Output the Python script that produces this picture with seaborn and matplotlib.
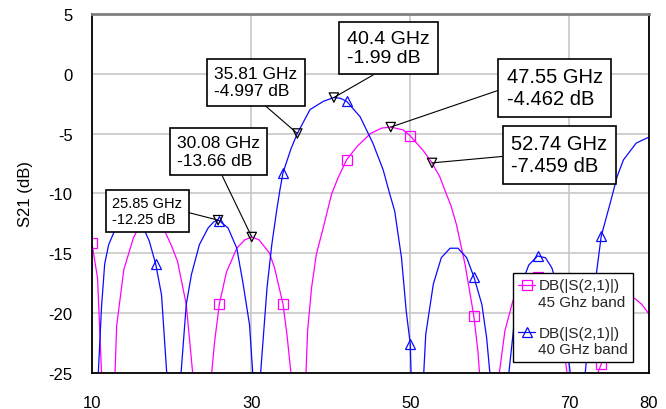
import numpy as np
import pandas as pd
import matplotlib
matplotlib.use("Agg")
import matplotlib.pyplot as plt
import seaborn as sns
from matplotlib.lines import Line2D
from matplotlib.legend_handler import HandlerLine2D

# ---------------- data ----------------
freq_45 = [10.0, 10.7, 11.2, 12.0, 12.9, 13.1, 14.0, 15.2, 16.2, 17.0, 18.0, 19.1, 20.0,
           20.75, 21.85, 22.65, 23.8, 25.05, 25.4, 26.0, 26.9, 28.2, 29.2, 30.08, 31.0,
           32.3, 32.95, 34.0, 34.5, 35.0, 36.0, 36.9, 37.1, 37.6, 38.2, 39.1, 40.1, 40.9,
           42.0, 43.3, 45.0, 46.4, 47.55, 49.1, 50.0, 51.6, 52.74, 53.7, 54.5, 55.1, 55.8,
           56.9, 58.0, 58.5, 58.7, 60.0, 61.2, 61.9, 62.9, 63.6, 64.6, 65.5, 66.0, 67.0,
           68.0, 69.0, 69.7, 71.5, 73.6, 74.0, 75.0, 76.0, 77.0, 78.1, 79.1, 80.0]
db_45 = [-14.2, -17.1, -25.0, -32.0, -25.0, -21.1, -16.4, -13.75, -12.4, -11.8, -11.8, -13.1, -14.4,
         -15.7, -19.3, -25.0, -32.0, -25.0, -22.5, -19.3, -16.6, -14.6, -13.9, -13.66, -13.9,
         -15.0, -16.25, -19.25, -21.8, -25.0, -32.0, -25.0, -21.5, -17.9, -15.1, -12.8, -10.1, -8.75,
         -7.2, -6.1, -5.0, -4.55, -4.462, -4.7, -5.2, -6.4, -7.459, -8.6, -10.0, -11.0, -12.6,
         -16.0, -20.3, -23.2, -25.0, -32.0, -25.0, -21.5, -19.0, -18.2, -17.4, -17.0, -17.0, -17.4,
         -18.6, -21.5, -25.0, -32.0, -25.0, -24.3, -21.6, -19.8, -18.9, -18.75, -19.3, -20.1]

freq_40 = [10.0, 10.8, 11.2, 11.6, 12.1, 12.8, 13.6, 14.4, 15.2, 15.9, 16.6, 17.2, 18.0, 18.74,
           19.37, 20.3, 21.2, 21.85, 22.5, 23.5, 24.6, 25.3, 25.85, 26.0, 27.1, 28.2, 29.0, 29.8,
           30.2, 30.7, 31.2, 32.0, 32.6, 33.2, 33.6, 34.0, 35.0, 35.81, 37.4, 39.1, 40.4, 41.2,
           42.0, 43.7, 45.3, 46.6, 47.4, 48.05, 48.9, 49.5, 50.0, 50.1, 50.9, 51.7, 51.95, 52.9,
           53.9, 55.0, 56.0, 57.1, 58.0, 59.0, 59.6, 60.0, 61.2, 62.4, 63.0, 63.8, 64.9, 66.0,
           67.0, 67.8, 68.6, 69.4, 70.1, 71.0, 72.0, 72.2, 73.0, 74.0, 75.3, 76.0, 76.8, 78.4, 80.0]
db_40 = [-33.0, -25.0, -19.5, -15.9, -14.3, -13.2, -12.0, -11.3, -11.2, -11.9, -13.1, -14.0, -15.9, -18.5,
         -24.8, -33.0, -25.0, -19.3, -16.8, -14.3, -12.9, -12.4, -12.25, -12.3, -12.9, -14.6, -17.6, -21.0,
         -25.0, -33.0, -25.0, -17.9, -14.3, -11.5, -9.8, -8.3, -6.3, -4.997, -3.0, -2.3, -1.99, -2.05,
         -2.3, -3.6, -5.8, -8.05, -10.0, -11.5, -15.4, -19.9, -22.6, -25.0, -33.0, -25.0, -21.8, -17.6,
         -15.4, -14.6, -14.6, -15.4, -17.0, -19.3, -22.1, -25.0, -33.0, -25.0, -21.25, -17.9, -16.0, -15.25,
         -15.4, -16.25, -18.0, -21.0, -25.0, -33.0, -25.0, -23.5, -18.75, -13.6, -10.4, -8.6, -7.2, -5.8, -5.3]

marker_freqs = [10, 18, 26, 34, 42, 50, 58, 66, 74]

ann_freq = [25.85, 30.08, 35.81, 40.4, 47.55, 52.74]
ann_db = [-12.25, -13.66, -4.997, -1.99, -4.462, -7.459]

series_labels = ["DB(|S(2,1)|)\n45 Ghz band", "DB(|S(2,1)|)\n40 GHz band"]
x_ticks = [10, 30, 50, 70, 80]
y_ticks = [-25, -20, -15, -10, -5, 0, 5]
y_label = "S21 (dB)"

assert len(freq_45) == len(db_45) and len(freq_40) == len(db_40)

# ---------------- style ----------------
sns.set_theme(style="white")
plt.rcParams["font.family"] = ["Liberation Sans", "DejaVu Sans"]

MAGENTA = "#ff00ff"
BLUE = "#0a0aff"

fig = plt.figure(figsize=(6.66, 4.10), dpi=100)
ax = fig.add_axes([0.1381, 0.0890, 0.8363, 0.8744])

df45 = pd.DataFrame({"freq": freq_45, "db": db_45})
df40 = pd.DataFrame({"freq": freq_40, "db": db_40})
mk45 = [i for i, f in enumerate(freq_45) if f in marker_freqs]
mk40 = [i for i, f in enumerate(freq_40) if f in marker_freqs]

sns.lineplot(data=df45, x="freq", y="db", ax=ax, color=MAGENTA, lw=0.9,
             marker="s", markevery=mk45, mfc="none", mec=MAGENTA, ms=7.5, mew=0.9,
             legend=False, zorder=3, sort=False, estimator=None)
sns.lineplot(data=df40, x="freq", y="db", ax=ax, color=BLUE, lw=0.9,
             marker="^", markevery=mk40, mfc="none", mec=BLUE, ms=7.5, mew=0.9,
             legend=False, zorder=3, sort=False, estimator=None)

# annotation markers (black, downward triangles)
dfa = pd.DataFrame({"freq": ann_freq, "db": ann_db})
sns.scatterplot(data=dfa, x="freq", y="db", ax=ax, marker="v", s=45,
                facecolors="none", edgecolor="black", linewidth=0.9, zorder=4, legend=False)

# annotation boxes: (center in axes fraction, relpos of leader line, fontsize)
box_layout = [
    ((0.0996, 0.4505), (1.0, 0.5), 10.5),
    ((0.2268, 0.6165), (0.5, 0.0), 12.5),
    ((0.2941, 0.8103), (0.51, 0.0), 12.5),
    ((0.5320, 0.9052), (0.5, 0.0), 14),
    ((0.8312, 0.7941), (0.0, 0.51), 14.5),
    ((0.8393, 0.6073), (0.0, 0.48), 14.5),
]
for f, d, (pos, rel, fs) in zip(ann_freq, ann_db, box_layout):
    ax.annotate(f"{f} GHz\n{d} dB", xy=(f, d), xycoords="data",
                xytext=pos, textcoords="axes fraction",
                ha="center", va="center", multialignment="left",
                fontsize=fs, color="black", zorder=6,
                bbox=dict(boxstyle="square,pad=0.42", fc="white", ec="black", lw=1.2),
                arrowprops=dict(arrowstyle="-", color="black", lw=0.8,
                                relpos=rel, shrinkA=0, shrinkB=0))

# axes
ax.set_xlim(10, 80)
ax.set_ylim(-25, 5)
ax.set_xticks(x_ticks)
ax.set_yticks(y_ticks)
ax.set_xticklabels([str(t) for t in x_ticks])
ax.set_yticklabels([str(t) for t in y_ticks])
ax.tick_params(axis="both", length=0, labelsize=12, colors="black")
ax.tick_params(axis="x", pad=16)
ax.tick_params(axis="y", pad=14)
ax.set_xlabel("")
ax.set_ylabel(y_label, fontsize=12, color="black")
ax.yaxis.set_label_coords(-0.106, 0.5)

ax.grid(True, color="#c8c8c8", lw=1.2)
ax.set_axisbelow(True)
for side in ["left", "bottom", "right"]:
    ax.spines[side].set_color("black")
    ax.spines[side].set_linewidth(1.3)
ax.spines["top"].set_color("#808080")
ax.spines["top"].set_linewidth(2.0)
for sp in ax.spines.values():
    sp.set_zorder(7)


class FirstLineHandler(HandlerLine2D):
    """Place the legend handle beside the first line of a two-line label."""
    def create_artists(self, legend, orig_handle, xdescent, ydescent, width, height, fontsize, trans):
        arts = super().create_artists(legend, orig_handle, xdescent, ydescent,
                                      width, height, fontsize, trans)
        for a in arts:
            a.set_ydata(np.asarray(a.get_ydata(), float) + 0.6 * fontsize)
        return arts


handles = [
    Line2D([], [], color=MAGENTA, lw=0.9, marker="s", mfc="none", mec=MAGENTA, ms=7.5, mew=0.9),
    Line2D([], [], color=BLUE, lw=0.9, marker="^", mfc="none", mec=BLUE, ms=7.5, mew=0.9),
]
leg = ax.legend(handles, series_labels, loc="lower right", bbox_to_anchor=(0.972, 0.030),
                bbox_transform=ax.transAxes, fontsize=11, frameon=True, fancybox=False,
                framealpha=1, edgecolor="black", handlelength=1.1, handletextpad=0.2,
                borderpad=0.35, labelspacing=1.15, borderaxespad=0,
                handler_map={Line2D: FirstLineHandler()})
leg.get_frame().set_linewidth(1.0)
leg.set_zorder(8)

fig.savefig("out.png", dpi=100)
